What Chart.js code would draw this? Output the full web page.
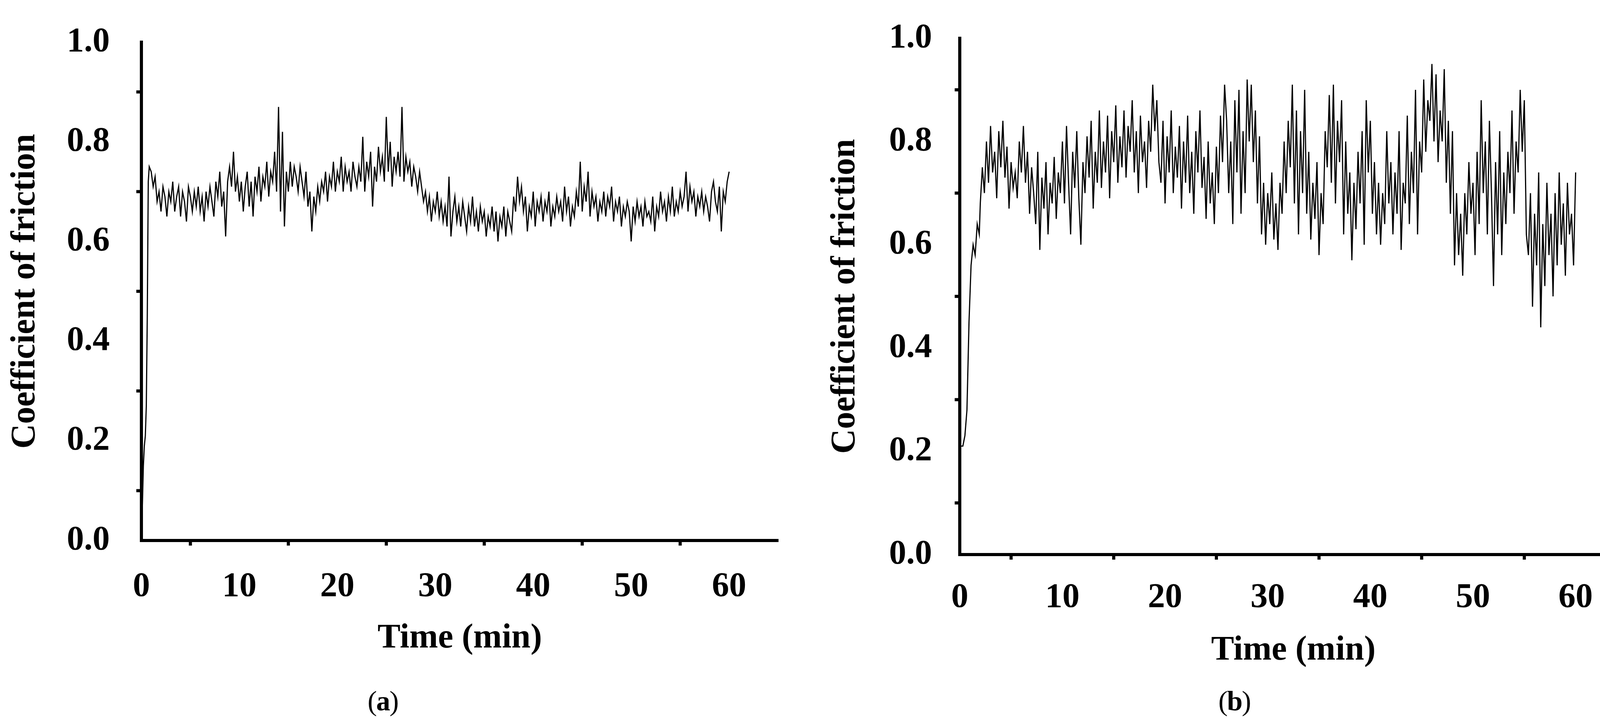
<!DOCTYPE html>
<html><head><meta charset="utf-8">
<script src="https://cdn.jsdelivr.net/npm/chart.js@4"></script>
<style>body{margin:0;background:#fff;width:4186px;height:1859px;overflow:hidden;position:relative}
canvas{position:absolute;top:0}</style></head>
<body>
<canvas id="ca" width="2093" height="1859" style="left:0"></canvas>
<canvas id="cb" width="2093" height="1859" style="left:2093px"></canvas>
<script>
// ---- data ----
const yTicks = [0.0, 0.2, 0.4, 0.6, 0.8, 1.0];
const xTicks = [0, 10, 20, 30, 40, 50, 60];
const STEP = 0.2;
// (a) start-up part
const headTimeA = [0, 0.1, 0.2, 0.3, 0.4, 0.5, 0.6, 0.7, 0.8];
const headCofA  = [0.20, 0.07, 0.15, 0.19, 0.21, 0.27, 0.45, 0.72, 0.75];
const bodyStartA = 1.0;
const bodyCofA = [
0.74,0.71,0.73,0.68,0.70,0.66,0.71,0.69,0.65,0.70,0.68,0.72,0.66,0.69,0.71,0.65,0.70,0.68,0.64,0.71,0.69,0.66,0.70,0.67,0.71,
0.66,0.69,0.64,0.70,0.67,0.71,0.68,0.65,0.72,0.69,0.74,0.67,0.70,0.61,0.72,0.75,0.71,0.78,0.70,0.73,0.68,0.72,0.66,0.71,0.74,
0.67,0.72,0.65,0.73,0.70,0.75,0.68,0.73,0.71,0.76,0.69,0.74,0.72,0.78,0.70,0.87,0.66,0.82,0.63,0.74,0.70,0.76,0.71,0.75,0.73,
0.70,0.75,0.72,0.69,0.74,0.67,0.70,0.62,0.69,0.66,0.71,0.68,0.72,0.70,0.74,0.68,0.73,0.71,0.76,0.70,0.74,0.72,0.77,0.70,0.75,
0.72,0.74,0.70,0.76,0.73,0.71,0.75,0.72,0.81,0.70,0.76,0.73,0.78,0.67,0.75,0.72,0.79,0.74,0.77,0.72,0.85,0.74,0.80,0.71,0.77,
0.74,0.78,0.73,0.87,0.72,0.77,0.74,0.76,0.71,0.75,0.73,0.70,0.74,0.71,0.68,0.70,0.66,0.69,0.64,0.68,0.66,0.70,0.65,0.68,0.64,
0.67,0.63,0.73,0.61,0.66,0.69,0.64,0.67,0.63,0.68,0.65,0.62,0.67,0.64,0.69,0.63,0.66,0.62,0.67,0.64,0.66,0.61,0.65,0.63,0.67,
0.62,0.66,0.60,0.65,0.63,0.67,0.61,0.66,0.64,0.62,0.69,0.66,0.73,0.68,0.71,0.66,0.69,0.62,0.67,0.65,0.70,0.63,0.68,0.66,0.69,
0.64,0.68,0.66,0.70,0.63,0.67,0.65,0.69,0.66,0.68,0.64,0.71,0.66,0.69,0.63,0.67,0.65,0.70,0.67,0.76,0.66,0.71,0.68,0.74,0.65,
0.70,0.67,0.69,0.64,0.68,0.66,0.70,0.65,0.69,0.67,0.71,0.64,0.68,0.66,0.69,0.63,0.67,0.65,0.68,0.66,0.60,0.67,0.64,0.68,0.65,
0.67,0.63,0.68,0.65,0.66,0.64,0.69,0.62,0.67,0.65,0.70,0.66,0.68,0.64,0.69,0.66,0.71,0.65,0.68,0.66,0.70,0.67,0.69,0.74,0.66,
0.71,0.68,0.70,0.65,0.69,0.67,0.70,0.66,0.69,0.67,0.64,0.70,0.72,0.68,0.66,0.71,0.62,0.70,0.68,0.72,0.74];
// (b) start-up part
const headTimeB = [0, 0.3, 0.5, 0.7, 0.9, 1.1, 1.3, 1.5, 1.7, 1.9];
const headCofB  = [0.21, 0.21, 0.23, 0.28, 0.45, 0.56, 0.60, 0.58, 0.64, 0.62];
const bodyStartB = 2.0;
const bodyCofB = [
0.68,0.75,0.70,0.80,0.72,0.83,0.74,0.78,0.69,0.82,0.75,0.84,0.73,0.79,0.67,0.76,0.71,0.74,0.69,0.80,0.74,0.83,0.72,0.78,0.66,
0.75,0.70,0.64,0.78,0.59,0.73,0.67,0.76,0.62,0.72,0.68,0.77,0.65,0.74,0.70,0.80,0.68,0.83,0.72,0.62,0.78,0.71,0.82,0.69,0.60,
0.76,0.70,0.81,0.73,0.84,0.67,0.78,0.72,0.86,0.71,0.80,0.74,0.85,0.69,0.82,0.76,0.87,0.72,0.81,0.75,0.86,0.73,0.83,0.78,0.88,
0.74,0.82,0.70,0.85,0.76,0.80,0.71,0.84,0.78,0.91,0.82,0.88,0.76,0.72,0.84,0.68,0.81,0.74,0.86,0.70,0.79,0.73,0.83,0.67,0.80,
0.72,0.85,0.70,0.78,0.66,0.82,0.74,0.86,0.71,0.77,0.65,0.80,0.68,0.74,0.64,0.79,0.70,0.85,0.76,0.91,0.84,0.70,0.80,0.64,0.88,
0.74,0.90,0.66,0.82,0.70,0.92,0.80,0.91,0.76,0.86,0.68,0.81,0.62,0.72,0.60,0.70,0.64,0.74,0.61,0.68,0.59,0.72,0.66,0.80,0.70,
0.84,0.75,0.91,0.68,0.86,0.62,0.82,0.70,0.90,0.66,0.78,0.61,0.72,0.65,0.76,0.58,0.70,0.64,0.82,0.75,0.89,0.72,0.91,0.68,0.84,
0.76,0.88,0.62,0.80,0.66,0.74,0.57,0.72,0.63,0.78,0.68,0.82,0.60,0.88,0.74,0.84,0.66,0.76,0.62,0.72,0.60,0.70,0.64,0.82,0.68,
0.76,0.62,0.74,0.66,0.82,0.59,0.72,0.68,0.85,0.64,0.78,0.70,0.90,0.62,0.80,0.74,0.92,0.78,0.88,0.84,0.95,0.80,0.93,0.76,0.86,
0.80,0.94,0.72,0.84,0.66,0.82,0.56,0.70,0.58,0.66,0.54,0.70,0.62,0.76,0.66,0.72,0.58,0.78,0.64,0.88,0.70,0.80,0.62,0.84,0.70,
0.52,0.76,0.62,0.82,0.58,0.74,0.64,0.78,0.70,0.86,0.66,0.80,0.74,0.90,0.78,0.88,0.62,0.58,0.70,0.48,0.66,0.56,0.74,0.44,0.64,
0.52,0.72,0.58,0.66,0.50,0.70,0.56,0.74,0.60,0.68,0.54,0.72,0.62,0.66,0.56,0.74];

// ---- chart building ----
const FONT = '"Liberation Serif", "Times New Roman", serif';
function points(ht, hv, start, body) {
  const p = ht.map((t, i) => ({x: t, y: hv[i]}));
  body.forEach((v, i) => p.push({x: +(start + i * STEP).toFixed(2), y: v}));
  return p;
}
const minorTicks = {
  id: 'minorTicks',
  afterDraw(chart) {
    const ctx = chart.ctx, xs = chart.scales.x, ys = chart.scales.y;
    ctx.save(); ctx.strokeStyle = '#000'; ctx.lineWidth = 8;
    for (let v = 5; v < 65; v += 10) {
      const px = xs.getPixelForValue(v);
      ctx.beginPath(); ctx.moveTo(px, ys.bottom); ctx.lineTo(px, ys.bottom + 13); ctx.stroke();
    }
    for (let v = 0.1; v < 1; v += 0.2) {
      const py = ys.getPixelForValue(v);
      ctx.beginPath(); ctx.moveTo(xs.left, py); ctx.lineTo(xs.left - 13, py); ctx.stroke();
    }
    ctx.restore();
  }
};
const panelLabel = {
  id: 'panelLabel',
  afterDraw(chart, args, opts) {
    const ctx = chart.ctx;
    ctx.save(); ctx.fillStyle = '#000'; ctx.textAlign = 'center'; ctx.textBaseline = 'middle';
    ctx.font = 'bold 72px ' + FONT;
    const w = ctx.measureText(opts.text.slice(1, 2));
    ctx.fillText(opts.text.slice(1, 2), opts.x, opts.y);
    ctx.font = '72px ' + FONT;
    ctx.fillText('(', opts.x - w.width / 2 - 10, opts.y);
    ctx.fillText(')', opts.x + w.width / 2 + 10, opts.y);
    ctx.restore();
  }
};
function make(id, data, L) {
  new Chart(document.getElementById(id), {
    type: 'line',
    data: {datasets: [{data, borderColor: '#000', borderWidth: 3, pointRadius: 0, tension: 0, fill: false}]},
    plugins: [minorTicks, panelLabel],
    options: {
      responsive: false, animation: false, devicePixelRatio: 1,
      layout: {padding: {top: L.top, right: L.right, left: 0, bottom: L.bottom}},
      plugins: {legend: {display: false}, tooltip: {enabled: false},
        panelLabel: {text: L.label, x: L.labelX, y: 1800}},
      scales: {
        x: {type: 'linear', min: 0, max: 65,
          afterBuildTicks: s => { s.ticks = xTicks.map(v => ({value: v})); },
          afterFit: s => { s.height = L.xh; },
          grid: {display: false, drawTicks: true, tickLength: 26, tickWidth: 8, tickColor: '#000'},
          border: {display: true, color: '#000', width: 8},
          ticks: {color: '#000', padding: L.xpad, font: {family: FONT, size: 88, weight: 'bold'}, maxRotation: 0},
          title: {display: true, text: 'Time (min)', color: '#000', padding: 0, font: {family: FONT, size: 88, weight: 'bold'}}
        },
        y: {min: 0, max: 1,
          afterBuildTicks: s => { s.ticks = yTicks.map(v => ({value: v})); },
          afterFit: s => { s.width = L.yw; },
          grid: {display: false, drawTicks: true, tickLength: 26, tickWidth: 8, tickColor: '#000'},
          border: {display: true, color: '#000', width: 8},
          ticks: {color: '#000', padding: L.ypad, callback: v => v.toFixed(1), font: {family: FONT, size: 88, weight: 'bold'}},
          title: {display: true, text: 'Coefficient of friction', color: '#000', padding: {top: L.tpad, bottom: 0}, font: {family: FONT, size: 88, weight: 'bold'}}
        }
      }
    }
  });
}
make('ca', points(headTimeA, headCofA, bodyStartA, bodyCofA),
  {top: 76, right: 101, bottom: 171, xh: 304, yw: 362, xpad: 40, ypad: 55, tpad: 12, label: '(a)', labelX: 981});
make('cb', points(headTimeB, headCofB, bodyStartB, bodyCofB),
  {top: 54, right: 21, bottom: 140, xh: 299, yw: 364, xpad: 32, ypad: 45, tpad: 18, label: '(b)', labelX: 3161 - 2093});
</script>
</body></html>
